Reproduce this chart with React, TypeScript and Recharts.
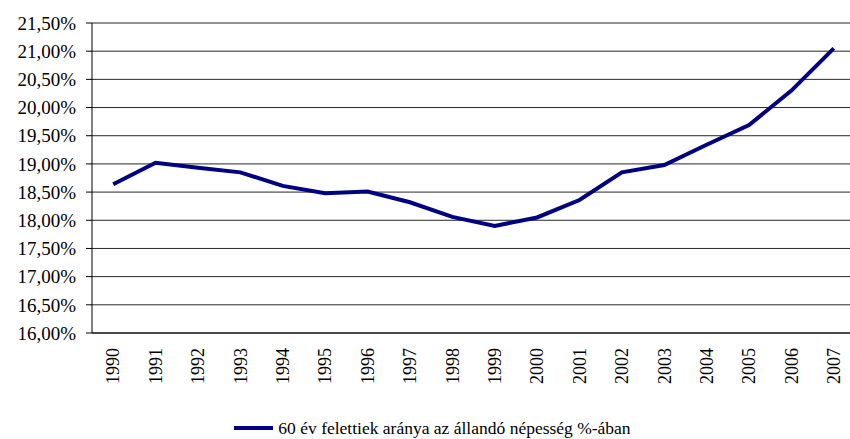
import { CartesianGrid, Legend, Line, LineChart, XAxis, YAxis } from "recharts";

const years = [
  "1990", "1991", "1992", "1993", "1994", "1995", "1996", "1997", "1998",
  "1999", "2000", "2001", "2002", "2003", "2004", "2005", "2006", "2007",
];
const shares = [
  18.64, 19.02, 18.93, 18.85, 18.61, 18.48, 18.51, 18.32, 18.06,
  17.9, 18.05, 18.36, 18.85, 18.98, 19.34, 19.69, 20.3, 21.05,
];
const yTicks = [16, 16.5, 17, 17.5, 18, 18.5, 19, 19.5, 20, 20.5, 21, 21.5];
const seriesName = "60 év felettiek aránya az állandó népesség %-ában";

const boundaryTicks = years.map((_, i) => i).concat(years.length);
const centerTicks = years.map((_, i) => i + 0.5);

const data = years.map((year, i) => ({ pos: i + 0.5, year, share: shares[i] }));

const font = "Liberation Serif, DejaVu Serif, serif";

const fmtPct = (v: number) => v.toFixed(2).replace(".", ",") + "%";

function YearTick({ x, y, payload }: any) {
  const label = years[Math.floor(payload.value)];
  return (
    <text
      x={x}
      y={y}
      transform={`rotate(-90 ${x} ${y})`}
      textAnchor="end"
      dy="0.35em"
      fontSize={18}
      fontFamily={font}
      fill="#000"
    >
      {label}
    </text>
  );
}

function LegendBox() {
  return (
    <div
      style={{
        display: "flex",
        alignItems: "center",
        justifyContent: "center",
        paddingLeft: 10,
        height: 22,
        lineHeight: "22px",
        fontFamily: font,
        fontSize: 17.5,
        color: "#000",
      }}
    >
      <span style={{ display: "inline-block", width: 39, height: 4, background: "#000080", marginRight: 5 }} />
      <span>{seriesName}</span>
    </div>
  );
}

export default function App() {
  return (
    <div style={{ position: "absolute", left: 0, top: 0, width: 850, height: 439, overflow: "hidden", background: "#fff" }}>
      <LineChart width={860} height={439} data={data} margin={{ top: 23, right: 5, bottom: 0, left: 0 }}>
        <CartesianGrid vertical={false} stroke="#000" strokeOpacity={0.85} />
        <XAxis
          dataKey="pos"
          type="number"
          domain={[0, years.length]}
          ticks={boundaryTicks}
          tick={false}
          tickSize={6}
          height={6}
          stroke="#000"
          interval={0}
        />
        <XAxis
          xAxisId="labels"
          dataKey="pos"
          type="number"
          domain={[0, years.length]}
          ticks={centerTicks}
          tick={<YearTick />}
          tickLine={false}
          axisLine={false}
          tickSize={0}
          tickMargin={9}
          height={78}
          interval={0}
        />
        <YAxis
          domain={[16, 21.5]}
          ticks={yTicks}
          tickFormatter={fmtPct}
          width={92}
          tickSize={6}
          tickMargin={10}
          stroke="#000"
          interval={0}
          tick={{ fill: "#000", fontSize: 19, fontFamily: font }}
        />
        <Legend verticalAlign="bottom" height={22} content={<LegendBox />} />
        <Line
          dataKey="share"
          name={seriesName}
          stroke="#000080"
          strokeWidth={4}
          dot={false}
          isAnimationActive={false}
        />
      </LineChart>
    </div>
  );
}
